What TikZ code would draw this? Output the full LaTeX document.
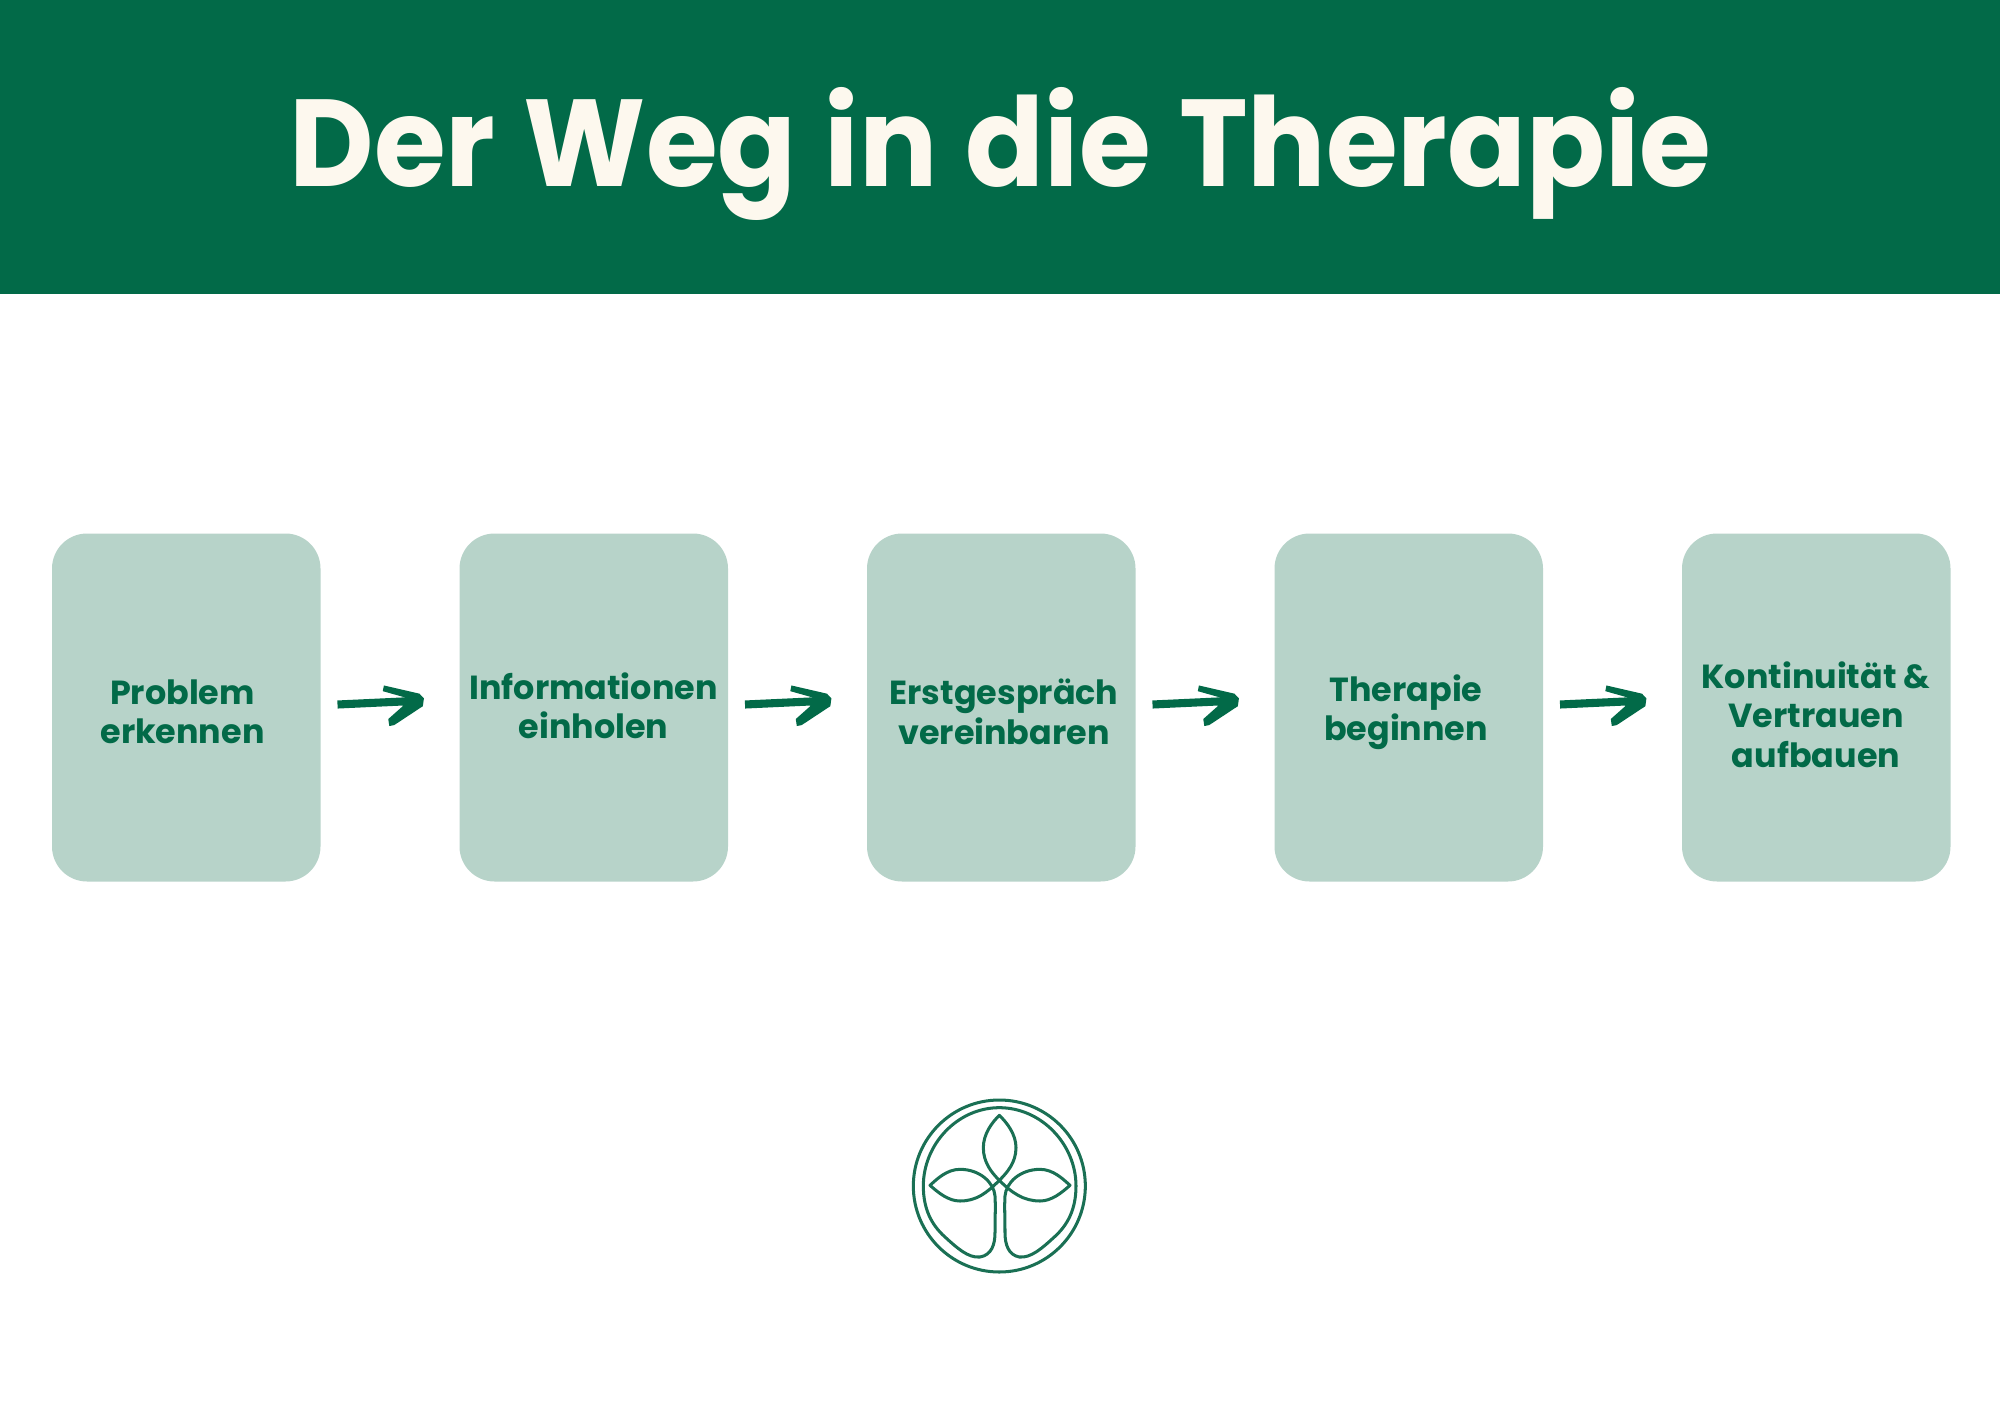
\documentclass[tikz,border=0pt]{standalone}
\usepackage{fontspec}
\setmainfont{Poppins}
\usetikzlibrary{arrows.meta}
\definecolor{hdr}{HTML}{026A48}
\definecolor{boxc}{HTML}{B7D3C9}
\definecolor{cream}{HTML}{FDF8EE}
\definecolor{logo}{HTML}{1A7054}
\makeatletter
\pgfdeclarearrow{
  name=Brush,
  setup code={\pgfarrowssettipend{0pt}\pgfarrowssetlineend{-17pt}\pgfarrowssetbackend{-59pt}\pgfarrowssetvisualbackend{-17pt}\pgfarrowssavethe{\pgfarrowlength}},
  drawing code={
    \pgfpathmoveto{\pgfqpoint{-56pt}{24pt}}
    \pgfpathlineto{\pgfqpoint{-6pt}{10pt}}
    \pgfpathlineto{\pgfqpoint{0pt}{3pt}}
    \pgfpathlineto{\pgfqpoint{-2pt}{-8pt}}
    \pgfpathlineto{\pgfqpoint{-44pt}{-33pt}}
    \pgfpathlineto{\pgfqpoint{-51pt}{-34pt}}
    \pgfpathlineto{\pgfqpoint{-52pt}{-24pt}}
    \pgfpathlineto{\pgfqpoint{-31pt}{-7pt}}
    \pgfpathlineto{\pgfqpoint{-27pt}{5.7pt}}
    \pgfpathlineto{\pgfqpoint{-58pt}{16pt}}
    \pgfpathclose
    \pgfusepathqfill
  }
}
\makeatother
\tikzset{
  card/.style={fill=boxc,rounded corners=35*0.05cm,minimum width=268.5*0.05cm,minimum height=348*0.05cm,inner sep=0pt,outer sep=0pt,anchor=north west},
  cardtext/.style={text=hdr,font=\fontsize{47.5}{56}\selectfont\bfseries,align=center,inner sep=0pt},
  conn/.style={draw=hdr,line width=11.5pt,-{Brush}},
  logoline/.style={draw=logo,line width=4.3pt,line join=round},
}
\newcommand{\wsp}{ \hspace{5.5pt}}
\begin{document}
\begin{tikzpicture}[x=0.05cm,y=-0.05cm]
\useasboundingbox (0,0) rectangle (2000,1414);
\node[fill=hdr,minimum width=2000*0.05cm,minimum height=293.5*0.05cm,inner sep=0pt,outer sep=0pt,anchor=north west] (header) at (0,0) {};
\node[text=cream,font=\fontsize{176}{200}\selectfont\bfseries,inner sep=0pt] (title) at (1000.5,154) {\scalebox{0.94}[1]{Der\wsp Weg\wsp in\wsp die\wsp Therapie}};

\node[card] (b1) at (52,533.5) {};
\node[card] (b2) at (459.5,533.5) {};
\node[card] (b3) at (867,533.5) {};
\node[card] (b4) at (1274.5,533.5) {};
\node[card] (b5) at (1682,533.5) {};

\node[cardtext] (t1) at (182.5,712) {Problem\\erkennen};
\node[cardtext] (t2) at (593.5,706) {Informationen\\einholen};
\node[cardtext] (t3) at (1004,712) {Erstgespräch\\vereinbaren};
\node[cardtext] (t4) at (1406,712.5) {Therapie\\beginnen};
\node[cardtext] (t5) at (1816,714.5) {Kontinuität \&\\Vertrauen\\aufbauen};

\foreach \a/\b in {b1/b2,b2/b3,b3/b4,b4/b5}
  \draw[conn] ([shift={(17,-3)}]\a.east) -- ([shift={(-35.5,-7)}]\b.west);

\begin{scope}[shift={(880,1081)},x=0.05cm/3,y=-0.05cm/3]
  \draw[logoline] (358,315) circle[radius=258];
  \draw[logoline] (300,528) .. controls (265,532) and (230,500) .. (195,468)
     .. controls (155,432) and (130,385) .. (130,315)
     .. controls (130,190) and (232,80) .. (358,80)
     .. controls (484,80) and (588,190) .. (588,315)
     .. controls (588,385) and (563,432) .. (523,468)
     .. controls (488,500) and (453,532) .. (418,528)
     .. controls (385,522) and (375,490) .. (375,455)
     .. controls (375,410) and (373,375) .. (375,345)
     .. controls (378,305) and (420,265) .. (480,265)
     .. controls (520,265) and (550,295) .. (570,313)
     .. controls (545,335) and (515,360) .. (480,360)
     .. controls (430,360) and (395,335) .. (358,298)
     .. controls (335,275) and (310,245) .. (310,200)
     .. controls (310,160) and (335,125) .. (358,103)
     .. controls (381,125) and (408,160) .. (408,200)
     .. controls (408,245) and (381,275) .. (358,298)
     .. controls (321,335) and (290,360) .. (240,360)
     .. controls (205,360) and (175,335) .. (150,313)
     .. controls (170,295) and (200,265) .. (240,265)
     .. controls (300,265) and (342,305) .. (345,345)
     .. controls (347,375) and (345,410) .. (345,455)
     .. controls (345,490) and (335,522) .. (300,528) -- cycle;
\end{scope}
\end{tikzpicture}
\end{document}
